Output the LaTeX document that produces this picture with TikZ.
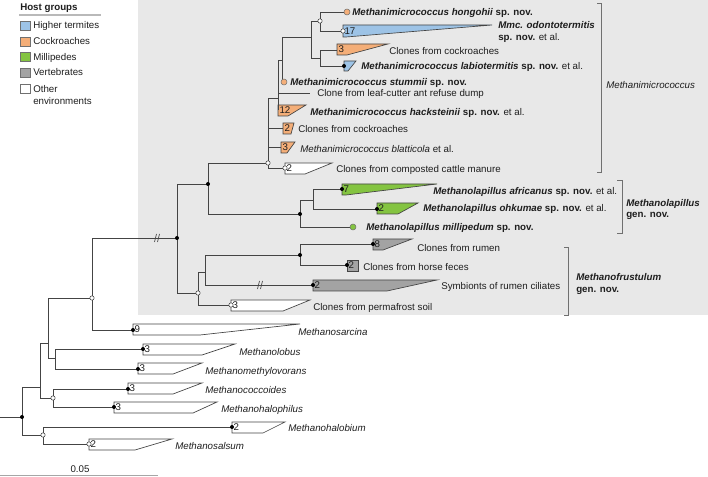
\documentclass[tikz,border=0pt]{standalone}
\usepackage{fontspec}
\setmainfont{Liberation Sans}
\definecolor{bgg}{HTML}{E8E8E8}
\definecolor{cblue}{HTML}{9DC3E6}
\definecolor{corange}{HTML}{F4AE78}
\definecolor{cgreen}{HTML}{84C441}
\definecolor{cgray}{HTML}{A3A3A3}
\definecolor{brc}{HTML}{444444}
\definecolor{bkc}{HTML}{707070}
\definecolor{txt}{HTML}{1E1E1E}
\newcommand{\cladeshape}[8]{%
  \draw[cl,fill=#7] (#2,#3) -- (#5,#3) -- (#6,#4) -- (#2,#4) -- cycle;
  \node[cnt] (#1) at ({#2+1.3},{(#3+#4)/2+3.4}) {#8};}
\newcommand{\brk}[2]{%
  \draw[brc,line width=0.5pt] ({#1-2.5},{#2+4}) -- ({#1-0.5},{#2-4});
  \draw[brc,line width=0.5pt] ({#1+0.5},{#2+4}) -- ({#1+2.5},{#2-4});}
\begin{document}
\begin{tikzpicture}[x=0.75pt,y=-0.75pt,
  br/.style={draw=brc,line width=0.65pt},
  cl/.style={draw=brc,line width=0.5pt},
  lbl/.style={inner sep=0pt,anchor=base west,text=txt,font=\fontsize{7.3}{8.5}\selectfont},
  cnt/.style={inner sep=0pt,anchor=base west,text=txt,font=\fontsize{7.3}{8.5}\selectfont},
  bdot/.style={circle,fill=black,inner sep=0pt,minimum size=3pt},
  wdot/.style={circle,fill=white,draw=brc,line width=0.4pt,inner sep=0pt,minimum size=3.3pt},
  odot/.style={circle,fill=corange,draw=bkc,line width=0.4pt,inner sep=0pt,minimum size=4.5pt},
  gdot/.style={circle,fill=cgreen,draw=bkc,line width=0.4pt,inner sep=0pt,minimum size=4.5pt},
  bracket/.style={draw=bkc,line width=0.6pt},
  legbox/.style={draw=bkc,line width=0.5pt}]
\useasboundingbox (0,0) rectangle (708,477);
\fill[bgg] (138,0) rectangle (708,315);

% ---------- legend ----------
\node[lbl] (lghead) at (20,11) {\textbf{Host groups}};
\draw[gray!55,line width=1pt] (19,15) -- (101,15);
\draw[legbox,fill=cblue] (20,21) rectangle (30,30);
\draw[legbox,fill=corange] (20,37) rectangle (30,46);
\draw[legbox,fill=cgreen] (20,52) rectangle (30,61);
\draw[legbox,fill=cgray] (20,68) rectangle (30,77);
\draw[legbox,fill=white] (20,84) rectangle (30,93);
\node[lbl] (lg1) at (33,29) {Higher termites};
\node[lbl] (lg2) at (33,45) {Cockroaches};
\node[lbl] (lg3) at (33,60.5) {Millipedes};
\node[lbl] (lg4) at (33,76) {Vertebrates};
\node[lbl] (lg5) at (33,92.5) {Other};
\node[lbl] (lg6) at (33,104.5) {environments};

% ---------- internal nodes ----------
\coordinate (root0) at (0,417);
\coordinate (R) at (22,417);
\coordinate (N) at (40,387);
\coordinate (K) at (48,343);
\coordinate (L) at (92,298);
\coordinate (M) at (55,358);
\coordinate (O) at (53,398);
\coordinate (P) at (43,435);
\coordinate (G) at (177,238);
\coordinate (H) at (208,184);
\coordinate (Fr) at (198,293);
\coordinate (I) at (205,272);
\coordinate (J) at (300,255);
\coordinate (E) at (268,163);
\coordinate (C) at (278,98);
\coordinate (A) at (282,60);
\coordinate (B) at (311,37);
\coordinate (HO) at (320,21);
\coordinate (CL) at (320,58);
\coordinate (Lap) at (300,214);
\coordinate (LA) at (313,200);

% ---------- leaves ----------
\coordinate (hon) at (345,12);
\coordinate (odo) at (343,31);
\coordinate (ck3) at (337,50);
\coordinate (lab) at (344,66);
\coordinate (stu) at (284,82);
\coordinate (leaf) at (310,93);
\coordinate (hac) at (278,110);
\coordinate (ck2) at (283,128);
\coordinate (bla) at (281,147);
\coordinate (cat) at (285,168);
\coordinate (afr) at (342,189);
\coordinate (ohk) at (377,209);
\coordinate (mil) at (351,227);
\coordinate (rum) at (373,244);
\coordinate (hor) at (347,265);
\coordinate (sym) at (313,285);
\coordinate (per) at (231,305);
\coordinate (sar) at (133,330);
\coordinate (lob) at (143,349);
\coordinate (mme) at (138,369);
\coordinate (mco) at (128,389);
\coordinate (mhp) at (114,407);
\coordinate (mhb) at (232,427);
\coordinate (msa) at (89,444);

% ---------- collapsed clades ----------
\cladeshape{n17}{343}{25}{37}{492}{346}{cblue}{17}
\cladeshape{n3a}{337}{44}{55}{388}{347}{corange}{3}
\cladeshape{nlab}{344}{61}{71}{356}{348}{cblue}{}
\cladeshape{n12}{278}{105}{116}{306}{288}{corange}{12}
\cladeshape{n2a}{283}{123}{134}{294}{291}{corange}{2}
\cladeshape{n3b}{281}{142}{153}{295}{287}{corange}{3}
\cladeshape{n2b}{285}{163}{174}{332}{305}{white}{2}
\cladeshape{n7}{342}{184}{195}{437}{346}{cgreen}{7}
\cladeshape{n2c}{377}{203}{214}{418}{398}{cgreen}{2}
\cladeshape{n8}{373}{239}{250}{412}{383}{cgray}{8}
\cladeshape{n2d}{347}{260}{271}{358}{358}{cgray}{2}
\cladeshape{n2e}{313}{280}{291}{437}{387}{cgray}{2}
\cladeshape{n3c}{231}{300}{311}{310}{283}{white}{3}
\cladeshape{n9}{133}{324}{335}{300}{200}{white}{9}
\cladeshape{n3d}{143}{344}{355}{235}{202}{white}{3}
\cladeshape{n3e}{138}{363}{374}{202}{173}{white}{3}
\cladeshape{n3f}{128}{383}{394}{202}{173}{white}{3}
\cladeshape{n3g}{114}{402}{413}{217}{193}{white}{3}
\cladeshape{n2f}{232}{422}{433}{285}{263}{white}{2}
\cladeshape{n2g}{89}{439}{450}{172}{135}{white}{2}

% ---------- branches ----------
\draw[br] (root0) -- (R);
\draw[br] (R) |- (N);
\draw[br] (R) |- (P);
\draw[br] (N) |- (K);
\draw[br] (N) |- (O);
\draw[br] (K) |- (L);
\draw[br] (K) |- (M);
\draw[br] (L) |- (G);
\draw[br] (L) |- (sar);
\draw[br] (M) |- (lob);
\draw[br] (M) |- (mme);
\draw[br] (O) |- (mco);
\draw[br] (O) |- (mhp);
\draw[br] (P) |- (mhb);
\draw[br] (P) |- (msa);
\draw[br] (G) |- (H);
\draw[br] (G) |- (Fr);
\draw[br] (H) |- (E);
\draw[br] (H) |- (Lap);
\draw[br] (E) |- (C);
\draw[br] (E) |- (ck2);
\draw[br] (E) |- (bla);
\draw[br] (E) |- (cat);
\draw[br] (C) |- (A);
\draw[br] (C) |- (leaf);
\draw[br] (C) |- (hac);
\draw[br] (A) |- (B);
\draw[br] (A) |- (stu);
\draw[br] (B) |- (HO);
\draw[br] (B) |- (CL);
\draw[br] (HO) |- (hon);
\draw[br] (HO) |- (odo);
\draw[br] (CL) |- (ck3);
\draw[br] (CL) |- (lab);
\draw[br] (Lap) |- (LA);
\draw[br] (Lap) |- (mil);
\draw[br] (LA) |- (afr);
\draw[br] (LA) |- (ohk);
\draw[br] (Fr) |- (I);
\draw[br] (Fr) |- (per);
\draw[br] (I) |- (J);
\draw[br] (I) |- (sym);
\draw[br] (J) |- (rum);
\draw[br] (J) |- (hor);
\brk{157}{238}
\brk{260}{285}

% ---------- support markers ----------
\node[bdot] (mR) at (R) {};
\node[bdot] (mG) at (G) {};
\node[bdot] (mH) at (H) {};
\node[bdot] (mLap) at (Lap) {};
\node[bdot] (mJ) at (J) {};
\node[bdot] (mlab) at (lab) {};
\node[bdot] (mafr) at (afr) {};
\node[bdot] (mohk) at (ohk) {};
\node[bdot] (mrum) at (rum) {};
\node[bdot] (mhor) at (hor) {};
\node[bdot] (msym) at (sym) {};
\node[bdot] (msar) at (sar) {};
\node[bdot] (mlob) at (lob) {};
\node[bdot] (mmme) at (mme) {};
\node[bdot] (mmco) at (mco) {};
\node[bdot] (mmhp) at (mhp) {};
\node[bdot] (mmhb) at (mhb) {};
\node[wdot] (mHO) at (HO) {};
\node[wdot] (modo) at (odo) {};
\node[wdot] (mE) at (E) {};
\node[wdot] (mcat) at (cat) {};
\node[wdot] (mFr) at (Fr) {};
\node[wdot] (mper) at (per) {};
\node[wdot] (mL) at (L) {};
\node[wdot] (mO) at (O) {};
\node[wdot] (mP) at (P) {};
\node[wdot] (mmsa) at (msa) {};
\node[odot] (mhon) at ([xshift=1.5pt]hon) {};
\node[odot] (mstu) at (stu) {};
\node[gdot] (mmil) at ([xshift=1.5pt]mil) {};

% ---------- leaf labels ----------
\node[lbl] (t1) at (352,15.5) {\textbf{\textit{Methanimicrococcus hongohii} sp. nov.}};
\node[lbl] (t2a) at (498,28.5) {\textbf{\textit{Mmc. odontotermitis}}};
\node[lbl] (t2b) at (498,40.5) {\textbf{sp. nov.} et al.};
\node[lbl] (t3) at (389,54.5) {Clones from cockroaches};
\node[lbl] (t4) at (361,69.5) {\textbf{\textit{Methanimicrococcus labiotermitis} sp. nov.} et al.};
\node[lbl] (t5) at (290,85.5) {\textbf{\textit{Methanimicrococcus stummii} sp. nov.}};
\node[lbl] (t6) at (317,96.5) {Clone from leaf-cutter ant refuse dump};
\node[lbl] (t7) at (310,115.5) {\textbf{\textit{Methanimicrococcus hacksteinii} sp. nov.} et al.};
\node[lbl] (t8) at (298,132.5) {Clones from cockroaches};
\node[lbl] (t9) at (300,152.5) {\textit{Methanimicrococcus blatticola} et al.};
\node[lbl] (t10) at (336,172.5) {Clones from composted cattle manure};
\node[lbl] (t11) at (433,194.5) {\textbf{\textit{Methanolapillus africanus} sp. nov.} et al.};
\node[lbl] (t12) at (423,211.5) {\textbf{\textit{Methanolapillus ohkumae} sp. nov.} et al.};
\node[lbl] (t13) at (366,230.5) {\textbf{\textit{Methanolapillus millipedum} sp. nov.}};
\node[lbl] (t14) at (417,251.5) {Clones from rumen};
\node[lbl] (t15) at (363,270.5) {Clones from horse feces};
\node[lbl] (t16) at (441,289.5) {Symbionts of rumen ciliates};
\node[lbl] (t17) at (313,310.5) {Clones from permafrost soil};
\node[lbl] (t18) at (298,335.5) {\textit{Methanosarcina}};
\node[lbl] (t19) at (239,355.5) {\textit{Methanolobus}};
\node[lbl] (t20) at (205,374.5) {\textit{Methanomethylovorans}};
\node[lbl] (t21) at (205,393.5) {\textit{Methanococcoides}};
\node[lbl] (t22) at (221,412.5) {\textit{Methanohalophilus}};
\node[lbl] (t23) at (288,431.5) {\textit{Methanohalobium}};
\node[lbl] (t24) at (175,449.5) {\textit{Methanosalsum}};

% ---------- brackets ----------
\draw[bracket] (597,3) -- (601,3) -- (601,172) -- (597,172);
\draw[bracket] (617,180) -- (622,180) -- (622,233) -- (617,233);
\draw[bracket] (564,247) -- (568,247) -- (568,315) -- (564,315);
\node[lbl] (g1) at (606,88.5) {\textit{Methanimicrococcus}};
\node[lbl] (g2a) at (626,206.5) {\textbf{\textit{Methanolapillus}}};
\node[lbl] (g2b) at (626,218) {\textbf{gen. nov.}};
\node[lbl] (g3a) at (576,280.5) {\textbf{\textit{Methanofrustulum}}};
\node[lbl] (g3b) at (576,292.5) {\textbf{gen. nov.}};

% ---------- scale bar ----------
\coordinate (sb0) at (0,475.5);
\coordinate (sb1) at (158,475.5);
\draw[gray!70,line width=1.2pt] (sb0) -- (sb1);
\node[lbl,anchor=base] (sbl) at (80,473) {0.05};
\end{tikzpicture}
\end{document}
